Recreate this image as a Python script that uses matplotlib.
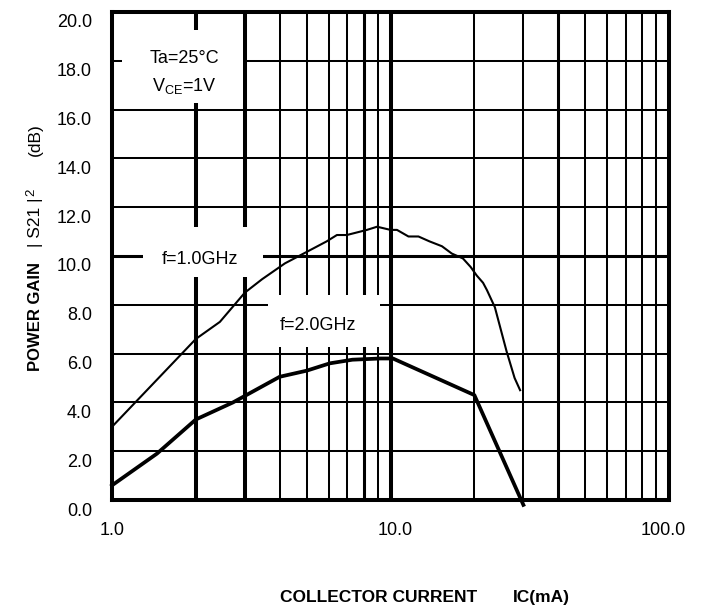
import matplotlib
matplotlib.use('Agg')
import matplotlib.pyplot as plt
from matplotlib.patches import Rectangle
from matplotlib.transforms import ScaledTranslation

plt.rcParams['font.family'] = ['Liberation Sans', 'DejaVu Sans']
plt.rcParams['mathtext.fontset'] = 'custom'
plt.rcParams['mathtext.rm'] = 'Liberation Sans'

# f = 1.0 GHz curve (thin)
ic_1g = [1.0, 2.0, 2.44, 3.0, 3.46, 4.18, 4.62, 5.9, 6.42, 6.97, 8.23, 8.95, 10.0,
         10.55, 11.6, 12.6, 13.8, 15.3, 16.6, 18.2, 19.4, 20.4, 21.5, 22.2, 23.7,
         26.1, 27.9, 29.2]
gain_1g = [3.0, 6.6, 7.3, 8.5, 9.05, 9.7, 9.96, 10.6, 10.86, 10.86, 11.07, 11.2, 11.07,
           11.07, 10.8, 10.8, 10.6, 10.4, 10.1, 9.9, 9.55, 9.2, 8.9, 8.6, 7.9,
           6.1, 5.0, 4.5]

# f = 2.0 GHz curve (thick)
ic_2g = [1.0, 1.45, 2.0, 2.72, 4.0, 5.0, 6.05, 7.3, 9.2, 10.2, 20.0, 30.0]
gain_2g = [0.6, 1.9, 3.3, 4.0, 5.05, 5.3, 5.6, 5.75, 5.8, 5.8, 4.3, -0.2]

x_ticks = [1, 10, 100]
x_labels = ['1.0', '10.0', '100.0']
y_ticks = [0, 2, 4, 6, 8, 10, 12, 14, 16, 18, 20]
y_labels = ['%.1f' % v for v in y_ticks]

fig = plt.figure(figsize=(7.06, 6.08), dpi=100)
ax = fig.add_axes([112 / 706, 108 / 608, 557 / 706, 488 / 608])
ax.set_xscale('log')
ax.set_xlim(1, 100)
ax.set_ylim(0, 20)

# grid lines, widths vary like the printed datasheet
vlines = {2: 2.9, 3: 2.9, 4: 1.45, 5: 1.45, 6: 1.45, 7: 1.45, 8: 2.2, 9: 1.45,
          10: 2.9, 20: 1.45, 30: 1.45, 40: 2.2, 50: 1.45, 60: 1.45, 70: 1.45,
          80: 1.45, 90: 1.45}
for xv, lw in vlines.items():
    ax.axvline(xv, color='black', lw=lw, zorder=1)
for yv in range(2, 20, 2):
    ax.axhline(yv, color='black', lw=2.2 if yv == 10 else 1.45, zorder=1)

# white label boxes that cut the grid
for (x0, y0, x1, y1) in [(0.018, 0.8135, 0.235, 0.963),
                         (0.0557, 0.457, 0.271, 0.559),
                         (0.280, 0.3135, 0.481, 0.420)]:
    ax.add_patch(Rectangle((x0, y0), x1 - x0, y1 - y0, transform=ax.transAxes,
                           facecolor='white', edgecolor='none', zorder=2))

ax.plot(ic_1g, gain_1g, color='black', lw=1.5, zorder=3)
ax.plot(ic_2g, gain_2g, color='black', lw=2.7, zorder=3, clip_on=False)

ax.text(0.1293, 0.9057, 'Ta=25\u00b0C', transform=ax.transAxes, ha='center', va='center', fontsize=13, zorder=4)
ax.text(0.1293, 0.848, 'V$_{\\mathrm{CE}}$=1V', transform=ax.transAxes, ha='center', va='center', fontsize=13, zorder=4)
ax.text(0.158, 0.492, 'f=1.0GHz', transform=ax.transAxes, ha='center', va='center', fontsize=13, zorder=4)
ax.text(0.370, 0.3586, 'f=2.0GHz', transform=ax.transAxes, ha='center', va='center', fontsize=13, zorder=4)

for sp in ax.spines.values():
    sp.set_linewidth(2.9)
    sp.set_zorder(5)

ax.set_xticks(x_ticks)
ax.set_xticklabels(x_labels, fontsize=13)
ax.xaxis.set_minor_locator(matplotlib.ticker.NullLocator())
ax.set_yticks(y_ticks)
ax.set_yticklabels(y_labels, fontsize=13)
ax.tick_params(axis='both', length=0)
ax.tick_params(axis='y', pad=14.4)
ax.tick_params(axis='x', pad=16)

for lab in ax.get_yticklabels():
    lab.set_transform(lab.get_transform() + ScaledTranslation(0, -0.09, fig.dpi_scale_trans))
xshift = [0.0, 0.05, -0.06]
for lab, dx in zip(ax.get_xticklabels(), xshift):
    lab.set_transform(lab.get_transform() + ScaledTranslation(dx, 0, fig.dpi_scale_trans))

# axis titles
fig.text(0.0496, 0.480, 'POWER GAIN', rotation=90, ha='center', va='center', fontsize=12, fontweight='bold')
fig.text(0.0496, 0.635, '| S21 |', rotation=90, ha='center', va='center', fontsize=12.5)
fig.text(0.0440, 0.684, '2', rotation=90, ha='center', va='center', fontsize=9.5)
fig.text(0.0496, 0.770, '(dB)', rotation=90, ha='center', va='center', fontsize=12.5)
fig.text(0.537, 0.018, 'COLLECTOR CURRENT', ha='center', va='center', fontsize=12.5, fontweight='bold')
fig.text(0.7266, 0.018, 'IC(mA)', ha='left', va='center', fontsize=12.5, fontweight='bold')

fig.savefig('out.png', dpi=100)
